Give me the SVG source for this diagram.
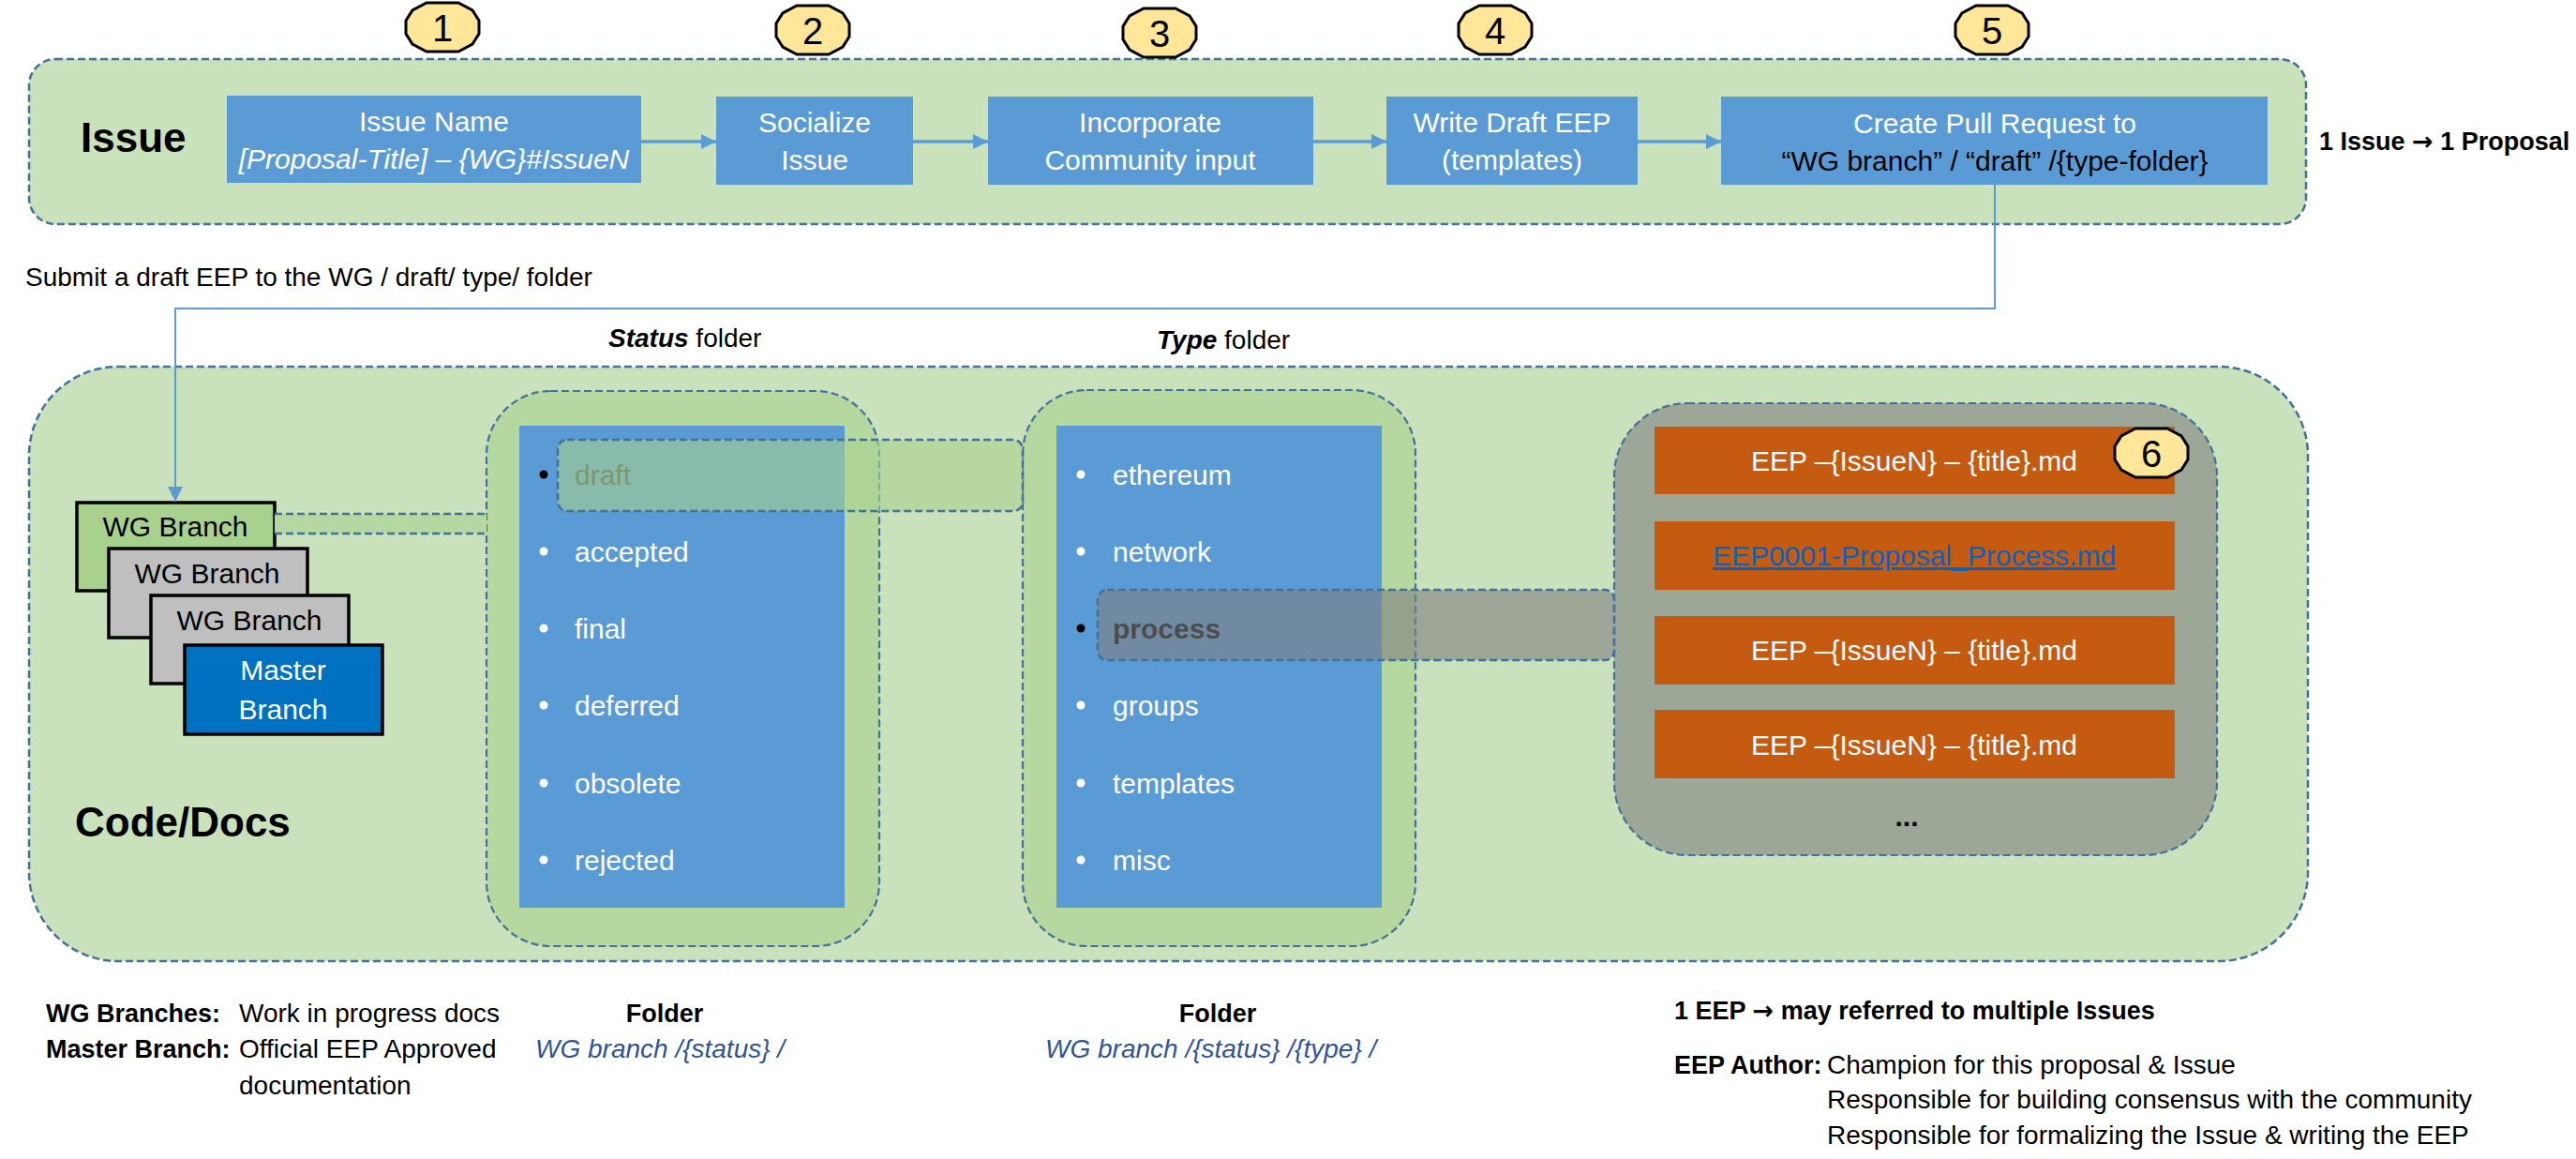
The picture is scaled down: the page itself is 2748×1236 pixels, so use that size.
<svg xmlns="http://www.w3.org/2000/svg" width="2748" height="1236" viewBox="0 0 2748 1236">
<defs>
<style>
text{font-family:"Liberation Sans",Arial,sans-serif;}
.bg{fill:#CAE2BB;stroke:#41719C;stroke-width:2.5;stroke-dasharray:8 4;}
.fold{fill:#B5D7A0;stroke:#41719C;stroke-width:2.2;stroke-dasharray:8 4;}
.files{fill:#9DA797;stroke:#41719C;stroke-width:2.2;stroke-dasharray:8 4;}
.blue{fill:#5B9BD5;}
.bt{fill:#fff;font-size:30px;text-anchor:middle;}
.li{fill:#fff;font-size:30px;}
.dot{fill:#fff;}
.step{fill:#FFE699;stroke:#000;stroke-width:3;}
.num{font-size:40px;text-anchor:middle;fill:#000;}
.br{stroke:#000;stroke-width:3.5;}
.brt{font-size:30px;fill:#000;text-anchor:middle;}
.eep{fill:#C55A11;}
.eept{fill:#fff;font-size:30px;text-anchor:middle;}
.conn{fill:none;stroke:#5B9BD5;}
.band{stroke:#41719C;stroke-width:2.5;stroke-dasharray:8 4;}
.note{font-size:28px;fill:#000;}
.nb{font-size:27px;font-weight:bold;fill:#000;}
.path{font-size:28px;font-style:italic;fill:#2F5597;}
.b{font-weight:bold;}
.i{font-style:italic;}
.arr{font-family:"DejaVu Sans",sans-serif;font-weight:bold;}
</style>
<marker id="ah" viewBox="0 0 16 16" refX="16" refY="8" markerWidth="16" markerHeight="16" markerUnits="userSpaceOnUse" orient="auto"><path d="M0,0 L16,8 L0,16 z" fill="#5B9BD5"/></marker>
<polygon id="oct" points="-17,-26 17,-26 32,-18 39,-7 39,7 32,18 17,26 -17,26 -32,18 -39,7 -39,-7 -32,-18"/>
</defs>

<rect width="2748" height="1236" fill="#fff"/>

<g id="issue-lane">
<rect class="bg" x="31" y="63" width="2429" height="176" rx="28"/>
<text x="86" y="162" class="b" font-size="44">Issue</text>
</g>

<g id="code-docs-lane">
<rect class="bg" x="31" y="391" width="2431" height="634" rx="95"/>
<text x="80" y="892" class="b" font-size="44">Code/Docs</text>
</g>

<g id="step1">
<use href="#oct" class="step" x="472" y="29"/>
<text class="num" x="472" y="44">1</text>
</g>
<g id="step2">
<use href="#oct" class="step" x="867" y="32"/>
<text class="num" x="867" y="47">2</text>
</g>
<g id="step3">
<use href="#oct" class="step" x="1237" y="35"/>
<text class="num" x="1237" y="50">3</text>
</g>
<g id="step4">
<use href="#oct" class="step" x="1595" y="32"/>
<text class="num" x="1595" y="47">4</text>
</g>
<g id="step5">
<use href="#oct" class="step" x="2125" y="32"/>
<text class="num" x="2125" y="47">5</text>
</g>

<g id="issue-name">
<rect class="blue" x="242" y="102" width="442" height="93"/>
<text class="bt" x="463" y="140">Issue Name</text>
<text class="bt i" x="463" y="180" font-size="29">[Proposal-Title] – {WG}#IssueN</text>
</g>
<g id="socialize">
<rect class="blue" x="764" y="103" width="210" height="94"/>
<text class="bt" x="869" y="141">Socialize</text>
<text class="bt" x="869" y="181">Issue</text>
</g>
<g id="incorporate">
<rect class="blue" x="1054" y="103" width="347" height="94"/>
<text class="bt" x="1227" y="141">Incorporate</text>
<text class="bt" x="1227" y="181">Community input</text>
</g>
<g id="write-draft">
<rect class="blue" x="1479" y="103" width="268" height="94"/>
<text class="bt" x="1613" y="141">Write Draft EEP</text>
<text class="bt" x="1613" y="181">(templates)</text>
</g>
<g id="create-pr">
<rect class="blue" x="1836" y="103" width="583" height="94"/>
<text class="bt" x="2128" y="142">Create Pull Request to</text>
<text class="bt" x="2128" y="182" style="fill:#000">“WG branch” / “draft” /{type-folder}</text>
</g>

<g id="ratio-note">
<text class="nb" x="2474" y="160">1 Issue <tspan class="arr">→</tspan> 1 Proposal</text>
</g>

<g id="submit-label">
<text class="note" x="27" y="305" font-size="29">Submit a draft EEP to the WG / draft/ type/ folder</text>
</g>

<g id="folder-headers">
<text class="note" x="649" y="370"><tspan class="b i">Status</tspan> folder</text>
<text class="note" x="1234" y="372"><tspan class="b i">Type</tspan> folder</text>
</g>

<g id="status-folder">
<rect class="fold" x="519" y="417" width="419" height="592" rx="68"/>
<rect class="blue" x="554" y="454" width="347" height="514"/>
<circle cx="580" cy="506" r="4.5" fill="#000"/>
<text class="li" x="613" y="517" style="fill:#404040">draft</text>
<circle class="dot" cx="580" cy="588" r="4.5"/>
<text class="li" x="613" y="599">accepted</text>
<circle class="dot" cx="580" cy="670" r="4.5"/>
<text class="li" x="613" y="681">final</text>
<circle class="dot" cx="580" cy="752" r="4.5"/>
<text class="li" x="613" y="763">deferred</text>
<circle class="dot" cx="580" cy="835" r="4.5"/>
<text class="li" x="613" y="846">obsolete</text>
<circle class="dot" cx="580" cy="917" r="4.5"/>
<text class="li" x="613" y="928">rejected</text>
</g>

<g id="type-folder">
<rect class="fold" x="1091" y="416" width="419" height="593" rx="68"/>
<rect class="blue" x="1127" y="454" width="347" height="514"/>
<circle class="dot" cx="1153" cy="506" r="4.5"/>
<text class="li" x="1187" y="517">ethereum</text>
<circle class="dot" cx="1153" cy="588" r="4.5"/>
<text class="li" x="1187" y="599">network</text>
<circle cx="1153" cy="670" r="4.5" fill="#000"/>
<text class="li b" x="1187" y="681" style="fill:#000">process</text>
<circle class="dot" cx="1153" cy="752" r="4.5"/>
<text class="li" x="1187" y="763">groups</text>
<circle class="dot" cx="1153" cy="835" r="4.5"/>
<text class="li" x="1187" y="846">templates</text>
<circle class="dot" cx="1153" cy="917" r="4.5"/>
<text class="li" x="1187" y="928">misc</text>
</g>

<g id="eep-files">
<rect class="files" x="1722" y="430" width="643" height="482" rx="78"/>
<rect class="eep" x="1765" y="455" width="555" height="72"/>
<text class="eept" x="2042" y="502">EEP –{IssueN} – {title}.md</text>
<rect class="eep" x="1765" y="556" width="555" height="73"/>
<text class="eept" x="2042" y="603" style="fill:#0563C1;text-decoration:underline">EEP0001-Proposal_Process.md</text>
<rect class="eep" x="1765" y="657" width="555" height="73"/>
<text class="eept" x="2042" y="704">EEP –{IssueN} – {title}.md</text>
<rect class="eep" x="1765" y="757" width="555" height="73"/>
<text class="eept" x="2042" y="805">EEP –{IssueN} – {title}.md</text>
<text x="2034" y="881" font-size="30" font-weight="bold" text-anchor="middle" fill="#000">...</text>
</g>

<g id="step6">
<use href="#oct" class="step" x="2295" y="483"/>
<text class="num" x="2295" y="498">6</text>
</g>

<g id="branches">
<g id="wg-branch-1">
<rect class="br" x="82" y="536" width="211" height="94" fill="#A9D18E"/>
<text class="brt" x="187" y="572">WG Branch</text>
</g>
<g id="wg-branch-2">
<rect class="br" x="116" y="585" width="212" height="95" fill="#BFBFBF"/>
<text class="brt" x="221" y="622">WG Branch</text>
</g>
<g id="wg-branch-3">
<rect class="br" x="161" y="635" width="211" height="94" fill="#BFBFBF"/>
<text class="brt" x="266" y="672">WG Branch</text>
</g>
<g id="master-branch">
<rect class="br" x="197" y="688" width="211" height="95" fill="#0070C0"/>
<text class="brt" x="302" y="725" style="fill:#fff">Master</text>
<text class="brt" x="302" y="767" style="fill:#fff">Branch</text>
</g>
</g>

<g id="connectors">
<line class="conn" x1="684" y1="151" x2="764" y2="151" stroke-width="3.5" marker-end="url(#ah)"/>
<line class="conn" x1="974" y1="151" x2="1054" y2="151" stroke-width="3.5" marker-end="url(#ah)"/>
<line class="conn" x1="1401" y1="151" x2="1479" y2="151" stroke-width="3.5" marker-end="url(#ah)"/>
<line class="conn" x1="1747" y1="151" x2="1836" y2="151" stroke-width="3.5" marker-end="url(#ah)"/>
<path class="conn" d="M2128,197 V329 H187 V535" stroke-width="2" marker-end="url(#ah)"/>
<g id="branch-status-link">
<rect x="293" y="548" width="226" height="21" fill="#B5D7A0"/>
<line class="band" x1="293" y1="548" x2="519" y2="548"/>
<line class="band" x1="293" y1="569" x2="519" y2="569"/>
</g>
<rect id="draft-link" x="595" y="469" width="496" height="76" rx="10" fill="#A9D18E" fill-opacity="0.6" class="band"/>
<rect id="process-link" x="1171" y="629" width="551" height="75" rx="10" fill="#7F7F7F" fill-opacity="0.6" class="band"/>
</g>

<g id="legend">
<text class="nb" x="49" y="1090">WG Branches:</text>
<text class="note" x="255" y="1090">Work in progress docs</text>
<text class="nb" x="49" y="1128">Master Branch:</text>
<text class="note" x="255" y="1128">Official EEP Approved</text>
<text class="note" x="255" y="1167">documentation</text>
<text class="nb" x="709" y="1090" text-anchor="middle">Folder</text>
<text class="path" x="571" y="1128">WG branch /{status} /</text>
<text class="nb" x="1299" y="1090" text-anchor="middle">Folder</text>
<text class="path" x="1115" y="1128">WG branch /{status} /{type} /</text>
<text class="nb" x="1786" y="1087">1 EEP <tspan class="arr">→</tspan> may referred to multiple Issues</text>
<text class="nb" x="1786" y="1145">EEP Author:</text>
<text class="note" x="1949" y="1145">Champion for this proposal &amp; Issue</text>
<text class="note" x="1949" y="1182">Responsible for building consensus with the community</text>
<text class="note" x="1949" y="1220">Responsible for formalizing the Issue &amp; writing the EEP</text>
</g>
</svg>
